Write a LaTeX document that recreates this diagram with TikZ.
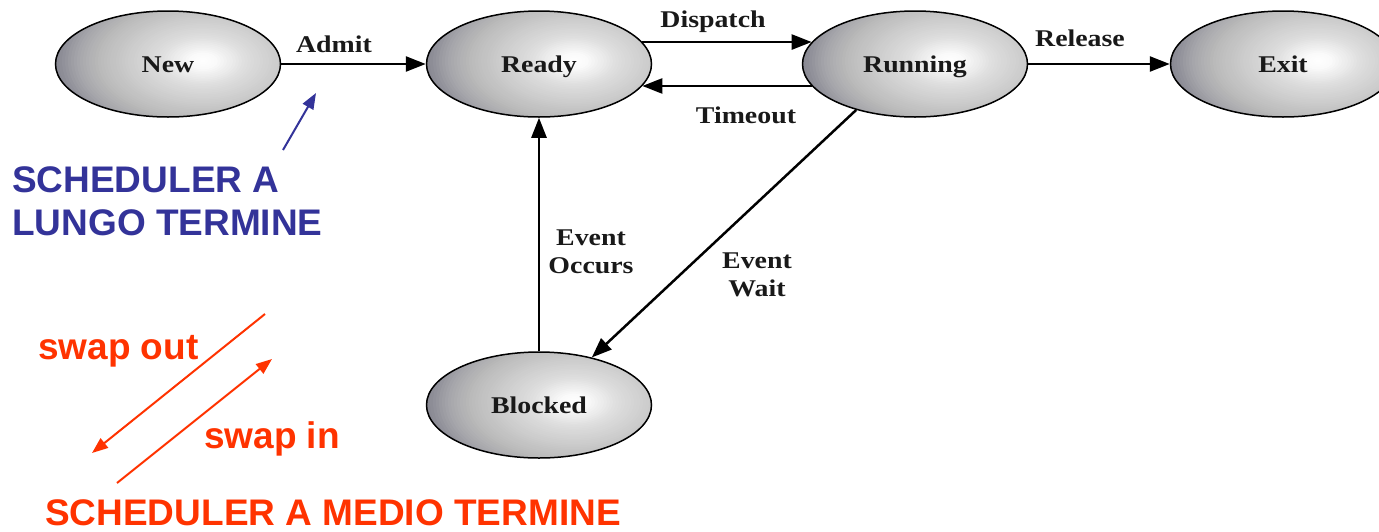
\documentclass[tikz,border=0pt]{standalone}
\usepackage{fontspec}
\usetikzlibrary{shapes.geometric,arrows.meta}
\newfontfamily\statefont[FakeStretch=1.16]{Liberation Serif}
\newfontfamily\notefont{Liberation Sans}
\definecolor{noteblue}{RGB}{51,51,153}
\definecolor{notered}{RGB}{255,51,0}
% state bubble: a glossy grey fill made of concentric ellipses around a
% highlight right of centre, clipped to the bubble, then the named node on top
\newcommand\orbstate[4]{%
  \begin{scope}
    \clip (#2,#3) ellipse [x radius=112.5pt, y radius=53pt];
    \foreach \r in {159,156,...,3}{%
      \pgfmathtruncatemacro\gv{\r<15 ? 255-0.33*\r :
        (\r<45 ? 250-0.933*(\r-15) :
        (\r<75 ? 222-0.567*(\r-45) :
        (\r<103 ? 205-0.607*(\r-75) :
        (\r<125 ? 188-0.909*(\r-103) :
        (\r<145 ? 168-1.4*(\r-125) : 140-1.0*(\r-145))))))}%
      \pgfmathtruncatemacro\bv{min(255,\gv+(\r>105 ? 0.25*(\r-105) : 0))}%
      \definecolor{orbtone}{RGB}{\gv,\gv,\bv}%
      \fill[orbtone] ({#2+35},{#3-3})
        ellipse [x radius=\r pt, y radius={0.56*\r pt}];
    }%
  \end{scope}
  \node[state] (#1) at (#2,#3) {#4};}
\begin{document}
\begin{tikzpicture}[x=1pt,y=-1pt,
  state/.style={ellipse, draw=black, line width=1.5pt, minimum width=225pt,
    minimum height=106pt, inner sep=0pt,
    text height=16pt, text depth=0pt,
    font=\statefont\bfseries\fontsize{24}{28}\selectfont, text=black!90},
  edgelabel/.style={font=\statefont\bfseries\fontsize{24}{28}\selectfont,
    text=black!90, align=center, inner sep=0pt},
  flow/.style={line width=2.5pt, draw=black,
    -{Triangle[length=20pt,width=15pt]}},
  note/.style={font=\notefont\bfseries\fontsize{37}{43}\selectfont,
    inner sep=0pt, anchor=base west},
  pointer/.style={line width=2pt, -{Triangle[length=16pt,width=12pt]}}]
\useasboundingbox (0,0) rectangle (1379,531);
\clip (0,0) rectangle (1379,531);

% process states
\orbstate{new}{168}{64}{New}
\orbstate{ready}{539}{64}{Ready}
\orbstate{running}{915}{64}{Running}
\orbstate{exit}{1283}{64}{Exit}
\orbstate{blocked}{539}{405}{Blocked}

% transitions
\draw[flow] (new.east) -- (ready.west);
\draw[flow] (ready.12) -- (running.168);
\draw[flow] (running.192) -- (ready.-12);
\draw[flow] (running.east) -- (exit.west);
\draw[flow] (running.218) -- (blocked.42);
\draw[flow] (blocked.north) -- (ready.south);

% transition labels
\node[edgelabel] (admit)    at (334,44)  {Admit};
\node[edgelabel] (dispatch) at (713,22)  {Dispatch};
\node[edgelabel] (timeout)  at (746,115) {Timeout};
\node[edgelabel] (release)  at (1080,38) {Release};
\node[edgelabel] (occurs)   at (591,252) {Event\\Occurs};
\node[edgelabel] (wait)     at (757,275) {Event\\Wait};

% long-term scheduler
\node[note, text=noteblue] (lt1) at (12,192) {SCHEDULER A};
\node[note, text=noteblue] (lt2) at (12,235) {LUNGO TERMINE};
\coordinate (ltfrom) at (283,150);
\coordinate (ltto)   at (316,93);
\draw[pointer, draw=noteblue, fill=noteblue] (ltfrom) -- (ltto);

% medium-term scheduler
\coordinate (outfrom) at (265,314);
\coordinate (outto)   at (92,453);
\coordinate (infrom)  at (117,483);
\coordinate (into)    at (272,359);
\draw[pointer, draw=notered, fill=notered] (outfrom) -- (outto);
\draw[pointer, draw=notered, fill=notered] (infrom) -- (into);
\node[note, text=notered] (swout) at (38,359)  {swap out};
\node[note, text=notered] (swin)  at (204,448) {swap in};
\node[note, text=notered] (mt)    at (45,525)  {SCHEDULER A MEDIO TERMINE};
\end{tikzpicture}
\end{document}
